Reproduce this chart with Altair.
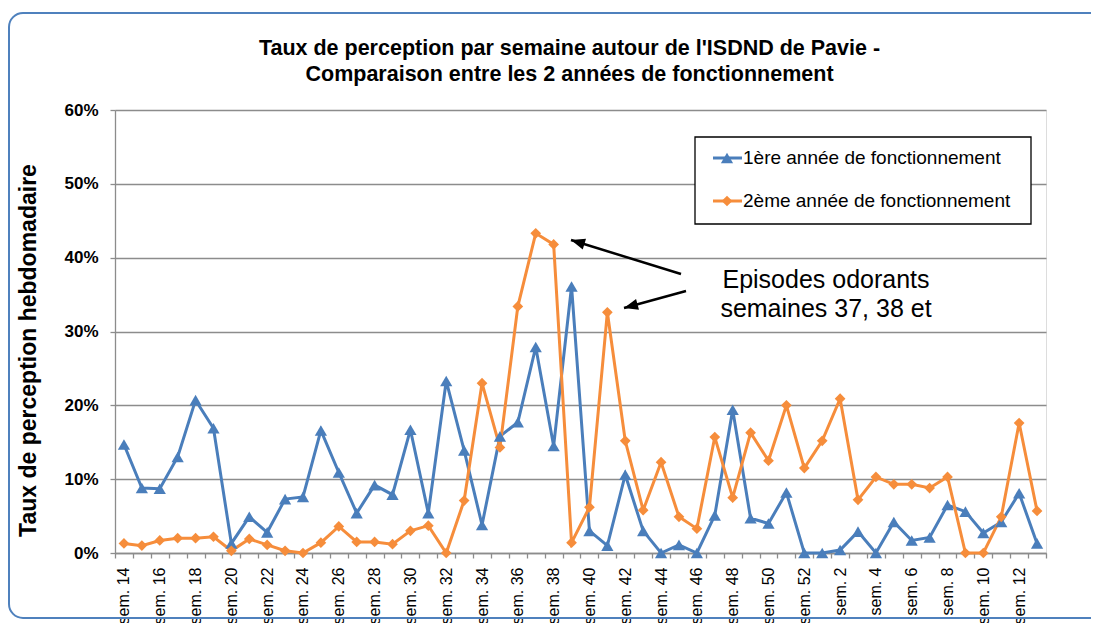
import altair as alt
import pandas as pd

# ---------------- data ----------------
weeks = [14, 15, 16, 17, 18, 19, 20, 21, 22, 23, 24, 25, 26,
         27, 28, 29, 30, 31, 32, 33, 34, 35, 36, 37, 38, 39,
         40, 41, 42, 43, 44, 45, 46, 47, 48, 49, 50, 51, 52,
         1, 2, 3, 4, 5, 6, 7, 8, 9, 10, 11, 12, 13]
categories = ["sem. %d" % w for w in weeks]

series_names = ["1ère année de fonctionnement", "2ème année de fonctionnement"]

year1 = [14.7, 8.8, 8.7, 13.0, 20.7, 16.9, 1.3, 4.9, 2.8, 7.3, 7.6, 16.6, 10.9,
         5.4, 9.2, 7.9, 16.7, 5.4, 23.3, 13.9, 3.8, 15.8, 17.7, 27.9, 14.5, 36.1,
         3.0, 1.0, 10.6, 3.0, 0.0, 1.1, 0.0, 5.1, 19.4, 4.7, 4.0, 8.2, 0.0,
         0.0, 0.4, 2.9, 0.0, 4.2, 1.7, 2.1, 6.5, 5.6, 2.7, 4.2, 8.1, 1.3]

year2 = [1.3, 1.0, 1.7, 2.0, 2.0, 2.2, 0.3, 1.9, 1.1, 0.3, 0.0, 1.4, 3.6,
         1.5, 1.5, 1.2, 3.0, 3.7, 0.0, 7.1, 23.0, 14.3, 33.4, 43.3, 41.8, 1.4,
         6.2, 32.6, 15.2, 5.8, 12.3, 4.9, 3.3, 15.7, 7.5, 16.3, 12.5, 20.0, 11.5,
         15.2, 20.9, 7.2, 10.3, 9.3, 9.3, 8.8, 10.3, 0.0, 0.0, 4.9, 17.6, 5.7]

title_lines = ["Taux de perception par semaine autour de l'ISDND de Pavie -",
               "Comparaison entre les 2 années de fonctionnement"]
y_title = "Taux de perception hebdomadaire"
annotation_lines = ["Episodes odorants", "semaines 37, 38 et"]

# ---------------- styles ----------------
FONT = "Liberation Sans"
colors = ["#4A7EBB", "#F68D3B"]
shapes = ["triangle-up", "diamond"]
sizes = [150, 115]
GRID = "#8C8C8C"

rows = []
for name, vals in zip(series_names, [year1, year2]):
    for c, v in zip(categories, vals):
        rows.append({"semaine": c, "taux": v / 100.0, "serie": name})
df = pd.DataFrame(rows)

x_enc = alt.X(
    "semaine:N", sort=categories,
    scale=alt.Scale(type="band", paddingInner=0, paddingOuter=0),
    axis=alt.Axis(
        title=None, labelAngle=270, labelFontSize=16, labelColor="black",
        labelFont=FONT, labelPadding=9, labelOverlap=False,
        labelExpr="parseInt(substring(datum.label, 5)) % 2 == 0 ? datum.label : ''",
        tickBand="extent", tickSize=5, tickColor=GRID, tickWidth=1.3,
        domainColor=GRID, domainWidth=1.3, grid=False,
    ),
)
y_enc = alt.Y(
    "taux:Q",
    scale=alt.Scale(domain=[0, 0.6], nice=False, zero=True),
    axis=alt.Axis(
        title=y_title, values=[0, 0.1, 0.2, 0.3, 0.4, 0.5, 0.6], format=".0%",
        labelFontSize=17, labelFontWeight="bold", labelColor="black", labelFont=FONT,
        labelPadding=12, tickSize=5, tickColor=GRID, tickWidth=1.3,
        domainColor=GRID, domainWidth=1.3, grid=True, gridColor=GRID, gridWidth=1.3,
        titleFontSize=23, titleFontWeight="bold", titleColor="black", titleFont=FONT,
        titleAngle=270, titleX=-87, titleY=240, titleAlign="center", titleBaseline="middle",
    ),
)
color_enc = alt.Color("serie:N", scale=alt.Scale(domain=series_names, range=colors), legend=None)
shape_enc = alt.Shape("serie:N", scale=alt.Scale(domain=series_names, range=shapes), legend=None)
size_enc = alt.Size("serie:N", scale=alt.Scale(domain=series_names, range=sizes), legend=None)

base = alt.Chart(df)
lines = base.mark_line(strokeWidth=3).encode(x=x_enc, y=y_enc, color=color_enc)
points = base.mark_point(filled=True, opacity=1).encode(
    x=x_enc, y=y_enc, color=color_enc, shape=shape_enc, size=size_enc)

one = pd.DataFrame({"k": [0]})
c1 = alt.Chart(one)

# outer frame of the chart area
frame = c1.mark_rect(filled=False, stroke="#4F81BD", strokeWidth=2, cornerRadius=14).encode(
    x=alt.value(-106), x2=alt.value(1100), y=alt.value(-97), y2=alt.value(508))

# custom legend
legend_layers = [
    c1.mark_rect(fill="white", stroke="black", strokeWidth=1.3).encode(
        x=alt.value(580), x2=alt.value(916), y=alt.value(27), y2=alt.value(114))
]
legend_y = [48, 91]
for i, name in enumerate(series_names):
    legend_layers.append(c1.mark_rule(color=colors[i], strokeWidth=3).encode(
        x=alt.value(598), x2=alt.value(627), y=alt.value(legend_y[i]), y2=alt.value(legend_y[i])))
    legend_layers.append(c1.mark_point(filled=True, opacity=1, color=colors[i], shape=shapes[i],
                                       size=sizes[i]).encode(
        x=alt.value(612), y=alt.value(legend_y[i])))
    legend_layers.append(c1.mark_text(text=name, font=FONT, fontSize=19, color="black",
                                      align="left", baseline="middle").encode(
        x=alt.value(628), y=alt.value(legend_y[i])))

# annotation arrows and text
ARROW = "M0,0L0.8,2L-0.8,2Z"
arrows = []
for (sx, sy, tx, ty, ang) in [(566, 164, 456, 130, 287), (571, 181, 509, 198, 255)]:
    arrows.append(c1.mark_rule(color="black", strokeWidth=2.5).encode(
        x=alt.value(sx), y=alt.value(sy), x2=alt.value(tx), y2=alt.value(ty)))
    arrows.append(c1.mark_point(filled=True, opacity=1, color="black", shape=ARROW,
                                size=196, angle=ang).encode(x=alt.value(tx), y=alt.value(ty)))
annot = c1.mark_text(text=annotation_lines, font=FONT, fontSize=25, color="black",
                     align="center", baseline="alphabetic", lineHeight=29).encode(
    x=alt.value(711), y=alt.value(178))

chart = alt.layer(frame, lines, points, *legend_layers, *arrows, annot).properties(
    width=931, height=443,
    autosize=alt.AutoSizeParams(type="none"),
    padding={"left": 107, "top": 102, "right": 45, "bottom": 70},
    title=alt.Title(title_lines, fontSize=21.5, fontWeight="bold", font=FONT, color="black",
                    anchor="middle", frame="group", dx=-11, offset=-73, lineHeight=26),
).configure_view(stroke=None).configure(font=FONT, background="white")

chart.save("out.html", embed_options={"renderer": "svg", "actions": False})
